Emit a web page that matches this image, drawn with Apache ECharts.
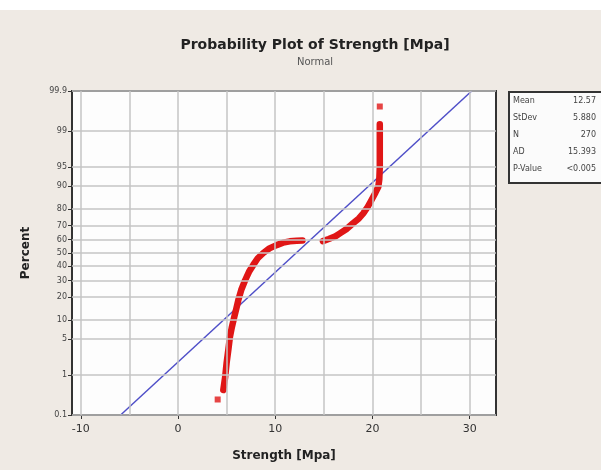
<!DOCTYPE html>
<html>
<head>
<meta charset="utf-8">
<title>Probability Plot of Strength</title>
<script src="https://cdn.jsdelivr.net/npm/echarts@6/dist/echarts.min.js"></script>
<style>
  html, body { margin: 0; padding: 0; background: #efeae4; }
  #main { width: 601px; height: 470px; }
</style>
</head>
<body>
<div id="main"></div>
<script>
// values (strength in Mpa, plotted percent)
var lowerStrength = [4.66, 4.85, 5.0, 5.2, 5.34, 5.55, 5.79, 6.0, 6.2, 6.5, 6.89, 7.3, 7.74, 8.2, 8.77, 9.4, 10.14, 10.8, 11.5, 12.2, 12.8];
var lowerPercent  = [0.45, 0.9, 1.8, 3.5, 5.5, 8, 11.2, 14.5, 18.4, 24, 30, 36, 41, 46, 50, 53.5, 56, 57.8, 58.8, 59.3, 59.5];
var upperStrength = [14.9, 15.5, 16.2, 16.65, 17.3, 18.0, 18.6, 19.05, 19.5, 19.9, 20.3, 20.6, 20.7, 20.75, 20.75, 20.75];
var upperPercent  = [59.0, 60.5, 62.5, 64.6, 67.5, 71.5, 74.5, 77.5, 81, 84.4, 87.5, 89.7, 92, 95, 98, 99.3];
var loneStrength  = [4.08, 20.75];
var lonePercent   = [0.26, 99.74];
var fitStrength   = [-5.9, 30.2];
var fitPercent    = [0.1, 99.9];

var percentTicks  = [0.1, 1, 5, 10, 20, 30, 40, 50, 60, 70, 80, 90, 95, 99, 99.9];
var percentLabels = ['0.1', '1', '5', '10', '20', '30', '40', '50', '60', '70', '80', '90', '95', '99', '99.9'];
var strengthTicks = [-10, 0, 10, 20, 30];
var strengthGrid  = [-10, -5, 0, 5, 10, 15, 20, 25, 30];

var statNames  = ['Mean', 'StDev', 'N', 'AD', 'P-Value'];
var statValues = ['12.57', '5.880', '270', '15.393', '<0.005'];

// normal probability scale: percent -> z (Acklam's inverse normal)
function probit(pct) {
    var p = pct / 100;
    var a = [-3.969683028665376e+01, 2.209460984245205e+02, -2.759285104469687e+02, 1.383577518672690e+02, -3.066479806614716e+01, 2.506628277459239e+00];
    var b = [-5.447609879822406e+01, 1.615858368580409e+02, -1.556989798598866e+02, 6.680131188771972e+01, -1.328068155922803e+01];
    var c = [-7.784894002430293e-03, -3.223964580411365e-01, -2.400758277161838e+00, -2.549732539343734e+00, 4.374664141464968e+00, 2.938163982698783e+00];
    var d = [7.784695709041462e-03, 3.224671290700398e-01, 2.445134137142996e+00, 3.754408661907416e+00];
    var q, r;
    if (p < 0.02425) {
        q = Math.sqrt(-2 * Math.log(p));
        return (((((c[0]*q+c[1])*q+c[2])*q+c[3])*q+c[4])*q+c[5]) / ((((d[0]*q+d[1])*q+d[2])*q+d[3])*q+1);
    } else if (p > 1 - 0.02425) {
        q = Math.sqrt(-2 * Math.log(1 - p));
        return -(((((c[0]*q+c[1])*q+c[2])*q+c[3])*q+c[4])*q+c[5]) / ((((d[0]*q+d[1])*q+d[2])*q+d[3])*q+1);
    }
    q = p - 0.5;
    r = q * q;
    return (((((a[0]*r+a[1])*r+a[2])*r+a[3])*r+a[4])*r+a[5])*q / (((((b[0]*r+b[1])*r+b[2])*r+b[3])*r+b[4])*r+1);
}

function pairs(xs, ps) {
    return xs.map(function (x, i) { return [x, probit(ps[i])]; });
}

var zTicks = percentTicks.map(probit);
var zMax = probit(99.9);

var gridLines = [];
zTicks.forEach(function (z) { gridLines.push({ yAxis: z }); });
strengthGrid.forEach(function (x) { gridLines.push({ xAxis: x }); });

var statTexts = [];
statNames.forEach(function (name, i) {
    statTexts.push({ type: 'text', left: 513, top: 97 + i * 17,
        style: { text: name, fill: '#444', font: '8px "DejaVu Sans"' } });
    statTexts.push({ type: 'text', right: 5, top: 97 + i * 17,
        style: { text: statValues[i], fill: '#444', font: '8px "DejaVu Sans"' } });
});

var myChart = echarts.init(document.getElementById('main'));
var option = {
    backgroundColor: '#efeae4',
    animation: false,
    textStyle: { fontFamily: 'DejaVu Sans' },
    title: {
        text: 'Probability Plot of Strength [Mpa]',
        subtext: 'Normal',
        left: 310,
        textAlign: 'center',
        top: 33,
        itemGap: 5,
        textStyle: { fontSize: 14, fontWeight: 'bold', color: '#222' },
        subtextStyle: { fontSize: 10, color: '#555' }
    },
    grid: {
        left: 72, right: 105, top: 91, bottom: 55,
        show: true, backgroundColor: '#fdfdfd', borderColor: '#333', borderWidth: 2
    },
    xAxis: {
        type: 'value',
        min: -10.9,
        max: 32.7,
        name: 'Strength [Mpa]',
        nameLocation: 'middle',
        nameGap: 35,
        nameTextStyle: { fontSize: 12, fontWeight: 'bold', color: '#222' },
        axisLine: { show: true, onZero: false, lineStyle: { color: '#333', width: 2 } },
        axisTick: { show: true, customValues: strengthTicks, length: 4, lineStyle: { color: '#333' } },
        axisLabel: { customValues: strengthTicks, fontSize: 11, color: '#333', margin: 9 },
        splitLine: { show: false }
    },
    yAxis: {
        type: 'value',
        min: -zMax,
        max: zMax,
        name: 'Percent',
        nameLocation: 'middle',
        nameGap: 40,
        nameTextStyle: { fontSize: 12, fontWeight: 'bold', color: '#222' },
        axisLine: { show: true, onZero: false, lineStyle: { color: '#333', width: 2 } },
        axisTick: { show: true, customValues: zTicks, length: 4, lineStyle: { color: '#333' } },
        axisLabel: {
            customValues: zTicks,
            fontSize: 8,
            color: '#444',
            margin: 5,
            formatter: function (v) {
                var best = 0;
                zTicks.forEach(function (z, i) {
                    if (Math.abs(z - v) < Math.abs(zTicks[best] - v)) best = i;
                });
                return percentLabels[best];
            }
        },
        splitLine: { show: false }
    },
    graphic: [
        { type: 'rect', left: 0, top: 0, shape: { width: 601, height: 10 }, style: { fill: '#ffffff' } },
        { type: 'rect', left: 508, top: 91, shape: { width: 100, height: 91 },
          style: { fill: '#fbfbfb', stroke: '#333', lineWidth: 2 } }
    ].concat(statTexts),
    series: [
        {
            name: 'grid',
            type: 'line',
            data: [],
            z: 1,
            markLine: {
                silent: true,
                symbol: 'none',
                label: { show: false },
                lineStyle: { color: '#c4c4c4', width: 1.5, type: 'solid' },
                data: gridLines
            }
        },
        {
            name: 'fit',
            type: 'line',
            z: 3,
            showSymbol: false,
            lineStyle: { color: '#4f4fc8', width: 1.5 },
            data: pairs(fitStrength, fitPercent)
        },
        {
            name: 'lower',
            type: 'line',
            z: 4,
            showSymbol: false,
            lineStyle: { color: '#e01616', width: 6.5, cap: 'round', join: 'round' },
            data: pairs(lowerStrength, lowerPercent)
        },
        {
            name: 'upper',
            type: 'line',
            z: 4,
            showSymbol: false,
            lineStyle: { color: '#e01616', width: 6.5, cap: 'round', join: 'round' },
            data: pairs(upperStrength, upperPercent)
        },
        {
            name: 'lone',
            type: 'scatter',
            z: 4,
            symbol: 'rect',
            symbolSize: 6,
            itemStyle: { color: '#e01616' },
            data: pairs(loneStrength, lonePercent)
        }
    ]
};
myChart.setOption(option);
</script>
</body>
</html>
